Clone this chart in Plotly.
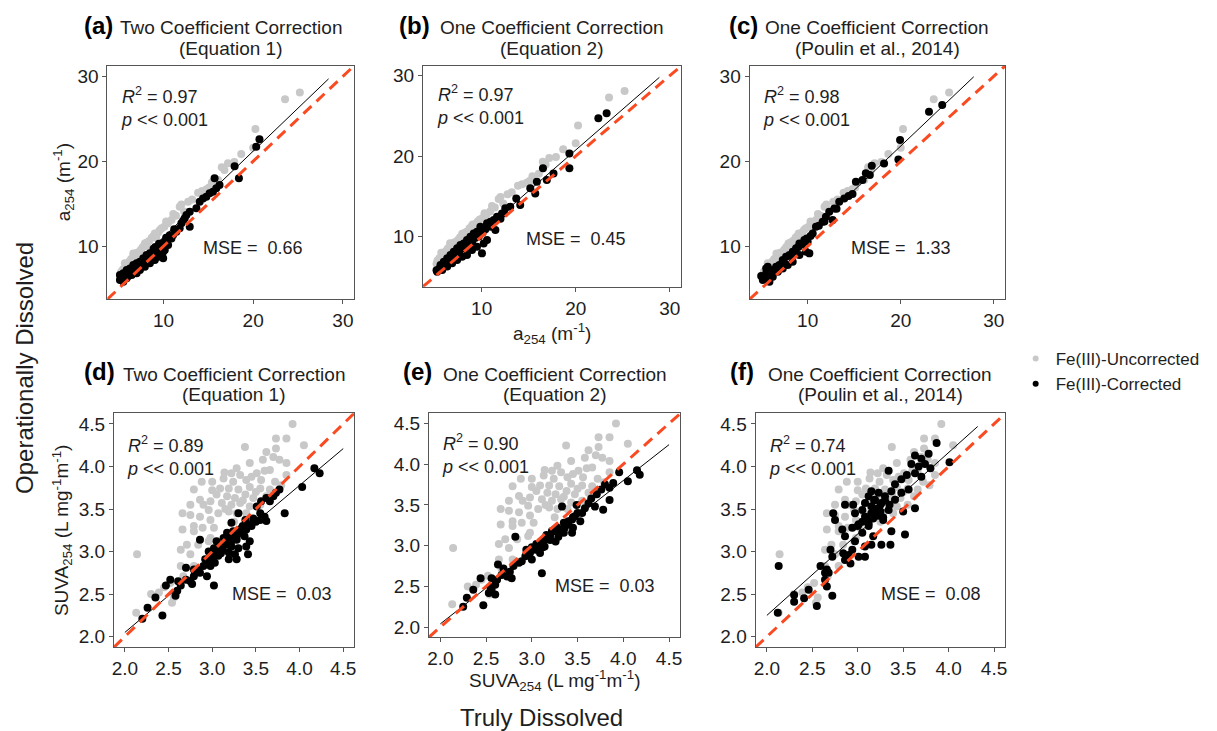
import plotly.graph_objects as go

W, H = 1217, 731
FONT = "Liberation Sans, Arial, Helvetica, sans-serif"
GREY = "#C8C8C8"
RED = "#FA4A22"
INK = "#1E1E1E"
FRAME = "#555555"

# ---------------- data: a254 (m^-1), truly vs operationally dissolved ----------------
a254_uncorr_x = [23.55, 25.2, 20.25, 20.0, 18.67, 17.9, 17.19, 16.8, 16.5, 16.08, 15.4, 14.8,
                 13.86, 13.2, 12.75, 12.3, 11.81, 11.4, 10.9, 10.5, 10.1, 9.8, 9.4, 9.04,
                 8.7, 8.4, 8.1, 7.93, 7.7, 7.5, 7.2, 7.0, 6.8, 6.64, 6.4, 6.2, 6.0, 5.8, 5.7,
                 5.5, 5.3, 5.2, 9.6, 8.9, 11.1, 12.0, 14.3, 15.1, 10.3, 7.4, 6.9, 8.2, 9.2,
                 5.9, 6.5]
a254_uncorr_y = [27.3, 28.1, 23.8, 21.6, 20.85, 19.9, 19.76, 18.97, 19.3, 17.79, 17.5, 16.7,
                 16.3, 15.5, 15.24, 14.1, 14.65, 13.6, 13.1, 12.7, 12.3, 12.1, 11.6, 11.5,
                 11.0, 10.6, 10.4, 10.33, 9.9, 9.6, 9.3, 9.2, 8.8, 9.15, 8.5, 8.2, 7.9, 7.6, 7.99,
                 7.3, 7.0, 6.6, 11.9, 11.2, 13.8, 14.9, 16.5, 16.9, 12.9, 9.0, 8.6, 10.0, 11.0,
                 7.4, 8.0]

a254_eq1_x = [20.7, 20.34, 17.93, 18.41, 15.7, 16.25, 15.89, 15.52, 15.15, 14.78, 14.41, 14.04,
              13.67, 12.93, 12.56, 12.37, 12.93, 12.0, 11.81, 11.44, 11.07, 10.89, 10.33, 10.52,
              10.15, 9.97, 9.78, 9.6, 9.23, 8.86, 8.49, 8.12, 7.75, 7.38, 7.01, 6.64, 6.27, 5.9,
              5.53, 5.15, 5.15, 5.53, 5.9, 6.46, 7.01, 7.38, 7.93, 8.49, 9.04, 9.41, 9.97,
              6.0, 6.3, 6.8, 7.2, 7.6, 8.0, 8.3, 8.7, 9.1, 9.5, 10.0, 10.3, 10.7, 11.2, 12.2,
              7.0, 6.1, 5.6, 5.3, 8.9]
a254_eq1_y = [22.6, 21.7, 19.4, 17.99, 18.0, 17.2, 16.81, 16.42, 16.22, 15.83, 15.63, 15.24,
              14.46, 14.06, 13.67, 13.28, 12.3, 12.69, 12.1, 11.71, 11.32, 10.92, 10.73, 10.14,
              9.55, 9.36, 9.94, 9.75, 9.55, 9.36, 9.16, 8.96, 8.57, 8.18, 7.98, 7.79, 7.39, 7.2,
              6.81, 6.61, 6.02, 5.82, 6.22, 6.61, 6.81, 7.2, 7.59, 7.98, 8.38, 8.77, 8.57,
              6.9, 6.8, 7.3, 7.6, 8.1, 8.4, 8.7, 8.9, 9.9, 10.3, 10.4, 11.0, 11.3, 12.0, 13.0,
              7.3, 6.5, 6.3, 6.4, 9.7]

a254_eq2_x = [23.29, 22.41, 19.33, 19.33, 17.64, 16.52, 16.93, 15.87, 15.7, 15.17, 13.68, 14.1,
              13.04, 12.51, 12.16, 11.63, 11.28, 10.93, 10.57, 11.46, 9.86, 9.5, 9.15, 8.8,
              8.44, 8.09, 7.74, 7.39, 7.03, 6.68, 6.33, 5.97, 5.62, 5.27, 5.8, 6.33, 6.86, 7.39,
              7.92, 8.44, 8.97, 9.5, 10.03, 10.21, 10.57,
              6.1, 6.5, 7.0, 7.6, 8.2, 8.6, 9.0, 9.3, 9.7, 10.1, 10.4, 11.0, 12.0, 12.4, 5.5,
              5.2, 6.8, 7.2]
a254_eq2_y = [25.32, 24.7, 20.34, 18.48, 17.85, 18.48, 17.02, 16.82, 15.36, 15.99, 14.74, 13.91,
              13.7, 13.5, 12.87, 12.46, 12.04, 11.84, 11.63, 10.8, 11.21, 10.59, 10.38, 9.97,
              9.56, 9.14, 8.94, 8.52, 8.11, 7.69, 7.28, 6.87, 6.45, 5.62, 5.83, 6.25, 6.66, 7.07,
              7.49, 7.69, 8.31, 8.73, 7.9, 9.14, 9.56,
              6.6, 6.9, 7.4, 8.0, 8.5, 8.9, 9.3, 9.8, 10.0, 10.5, 10.9, 11.2, 12.2, 12.9, 6.0,
              5.8, 7.1, 7.7]

a254_poulin_x = [24.46, 23.04, 19.93, 19.75, 18.21, 16.89, 16.68, 16.25, 15.89, 15.18, 14.82,
                 13.93, 13.39, 12.86, 12.32, 11.96, 12.68, 11.61, 10.89, 10.54, 10.0, 10.18,
                 9.64, 9.11, 8.75, 8.39, 8.04, 7.68, 7.5, 7.32, 6.96, 6.61, 6.25, 5.71, 5.54,
                 5.18, 5.0, 5.89, 6.25, 6.79, 7.32, 7.86, 8.39, 9.11, 9.82, 5.54,
                 6.0, 6.4, 7.0, 7.4, 8.2, 8.6, 9.0, 9.4, 9.9, 10.3, 11.2, 11.8, 13.1, 14.4,
                 5.3, 5.7]
a254_poulin_y = [26.62, 25.83, 22.5, 20.22, 19.75, 19.48, 18.38, 18.58, 17.79, 17.59, 16.14,
                 15.63, 15.24, 14.45, 14.06, 13.47, 13.08, 12.89, 12.3, 11.51, 10.53, 9.16,
                 10.73, 10.33, 9.75, 9.35, 8.96, 8.76, 7.98, 8.37, 7.78, 7.59, 7.19, 7.59, 6.8,
                 6.02, 6.49, 5.82, 6.41, 7.0, 7.39, 7.78, 8.18, 8.96, 9.35, 7.39,
                 6.9, 7.0, 7.5, 8.0, 8.9, 9.4, 9.9, 10.2, 10.9, 11.2, 12.4, 12.9, 14.4, 15.9,
                 6.3, 6.4]

# ---------------- data: SUVA254 (L mg^-1 m^-1) ----------------
suva_uncorr_x = [3.92, 3.73, 3.85, 4.05, 3.375, 3.62, 3.73, 3.70, 3.77, 3.85, 3.58, 3.43, 3.22,
                 3.32, 3.51, 3.66, 3.85, 3.13, 3.24, 3.39, 3.56, 3.72, 3.79, 2.79, 2.88, 3.00,
                 3.09, 3.19, 3.30, 3.43, 3.55, 3.66, 3.05, 3.17, 3.26, 3.38, 3.47, 3.62, 2.75,
                 2.86, 2.98, 3.11, 3.22, 3.32, 3.43, 3.55, 2.96, 3.07, 3.19, 3.28, 3.39, 2.66,
                 2.75, 2.86, 2.98, 2.79, 2.89, 3.02, 2.66, 2.79, 2.98, 2.64, 2.71, 2.14, 2.84,
                 2.96, 2.75, 2.64, 2.79, 2.67, 2.52, 2.45, 2.39, 2.56, 2.30, 2.13, 2.54,
                 3.14, 3.28, 3.45, 3.00, 2.90, 3.15, 3.35, 3.50, 3.60, 3.25]
suva_uncorr_y = [4.50, 4.33, 4.33, 4.25, 4.23, 4.17, 4.21, 4.11, 4.08, 4.04, 4.08, 4.04, 3.92,
                 3.90, 3.92, 3.96, 3.90, 3.86, 3.82, 3.84, 3.84, 3.82, 3.78, 3.73, 3.82, 3.82,
                 3.74, 3.74, 3.73, 3.76, 3.74, 3.73, 3.67, 3.65, 3.63, 3.67, 3.63, 3.65, 3.55,
                 3.61, 3.59, 3.57, 3.55, 3.57, 3.53, 3.55, 3.49, 3.45, 3.47, 3.45, 3.45, 3.45,
                 3.43, 3.41, 3.37, 3.30, 3.28, 3.28, 3.26, 3.24, 3.16, 3.02, 3.08, 2.97, 3.08,
                 3.12, 2.97, 2.83, 2.83, 2.71, 2.63, 2.58, 2.52, 2.46, 2.50, 2.28, 2.40,
                 3.93, 3.98, 3.88, 3.72, 3.55, 3.50, 3.60, 3.70, 3.95, 3.35]

suva_eq1_x = [4.17, 4.23, 4.03, 3.77, 3.73, 3.70, 3.66, 3.62, 3.56, 3.51, 3.83, 3.60, 3.55, 3.47,
              3.62, 3.55, 3.38, 3.42, 3.30, 3.22, 3.34, 3.39, 3.32, 3.24, 3.17, 3.13, 3.20, 3.28,
              3.37, 3.43, 3.39, 3.41, 2.86, 3.05, 3.13, 3.22, 3.30, 3.02, 2.96, 3.09, 3.19, 3.26,
              3.07, 3.00, 2.92, 3.03, 3.19, 3.28, 2.90, 2.98, 2.84, 2.79, 2.70, 2.94, 2.86, 2.79,
              3.02, 2.75, 2.70, 2.64, 2.77, 2.52, 2.61, 2.47, 2.58, 2.60, 2.35, 2.43, 2.26, 2.20,
              3.10, 3.15, 3.20, 3.25, 3.30, 3.35, 3.00, 3.05, 3.10, 3.22, 3.28, 3.35, 3.45, 3.50,
              2.95, 3.12, 3.18]
suva_eq1_y = [3.98, 3.92, 3.76, 3.73, 3.69, 3.65, 3.59, 3.63, 3.59, 3.53, 3.45, 3.41, 3.45, 3.39,
              3.36, 3.37, 3.37, 3.32, 3.45, 3.34, 3.28, 3.26, 3.22, 3.24, 3.22, 3.16, 3.16, 3.14,
              3.18, 3.12, 3.06, 2.97, 3.14, 3.12, 3.08, 3.06, 3.04, 3.04, 3.00, 3.00, 2.99, 2.97,
              2.95, 2.93, 2.91, 2.87, 2.91, 2.91, 2.83, 2.83, 2.79, 2.79, 2.81, 2.71, 2.75, 2.71,
              2.60, 2.65, 2.67, 2.60, 2.62, 2.67, 2.65, 2.60, 2.48, 2.54, 2.46, 2.25, 2.34, 2.21,
              3.05, 3.10, 3.10, 3.20, 3.25, 3.30, 2.97, 3.00, 2.98, 3.12, 3.18, 3.22, 3.30, 3.35,
              2.90, 3.02, 3.08]

suva_eq2_x = [4.15, 4.18, 4.05, 3.955, 3.89, 3.85, 3.80, 3.76, 3.85, 3.71, 3.65, 3.62, 3.78,
              3.69, 3.58, 3.55, 3.49, 3.47, 3.53, 3.44, 3.40, 3.36, 3.33, 3.45, 3.44, 3.35, 3.29,
              3.24, 3.26, 3.16, 3.20, 3.13, 3.14, 3.07, 3.04, 3.09, 2.98, 2.94, 2.93, 3.00, 2.89,
              2.82, 2.86, 2.80, 3.11, 2.76, 2.69, 2.63, 2.67, 2.73, 2.78, 2.62, 2.60, 2.56, 2.53,
              2.44, 2.56, 2.55, 2.36, 2.29, 2.25, 2.47, 2.60,
              3.10, 3.20, 3.25, 3.30, 3.35, 3.40, 3.00, 3.05, 3.15, 3.22, 3.28, 3.45, 3.50, 2.95,
              3.12]
suva_eq2_y = [3.925, 3.87, 3.79, 3.90, 3.77, 3.71, 3.75, 3.69, 3.56, 3.63, 3.58, 3.52, 3.44,
              3.48, 3.46, 3.40, 3.50, 3.36, 3.30, 3.32, 3.26, 3.22, 3.48, 3.22, 3.16, 3.16, 3.11,
              3.18, 3.05, 3.13, 3.07, 3.07, 2.99, 3.01, 2.95, 2.91, 2.91, 2.95, 2.87, 2.83, 2.81,
              3.11, 2.79, 2.75, 2.66, 2.68, 2.72, 2.77, 2.64, 2.62, 2.60, 2.58, 2.52, 2.46, 2.42,
              2.60, 2.60, 2.48, 2.46, 2.36, 2.25, 2.27, 2.40,
              3.05, 3.12, 3.20, 3.15, 3.28, 3.30, 2.98, 3.02, 3.08, 3.18, 3.22, 3.35, 3.40, 2.92,
              2.98]

suva_poulin_x = [3.868, 4.01, 3.63, 3.70, 3.78, 3.74, 3.80, 3.67, 3.59, 3.63, 3.70, 3.54, 3.48,
                 3.34, 3.41, 3.56, 3.63, 3.48, 3.37, 3.30, 3.23, 3.15, 3.12, 3.19, 3.26, 3.41,
                 3.50, 3.34, 3.25, 3.15, 3.08, 3.05, 2.97, 3.08, 3.17, 3.28, 3.37, 3.52, 3.12,
                 3.01, 2.94, 2.86, 2.95, 2.73, 2.75, 2.83, 2.86, 3.05, 3.17, 2.97, 3.15, 3.26,
                 3.36, 3.08, 2.94, 3.01, 3.08, 2.84, 2.70, 2.72, 2.86, 2.92, 2.90, 2.59, 2.66,
                 2.64, 2.68, 2.64, 2.66, 2.72, 2.55, 2.46, 2.41, 2.30, 2.30, 2.13, 2.12,
                 3.10, 3.15, 3.20, 3.25, 3.22, 3.05, 3.12, 3.18, 3.30, 3.35, 3.00, 3.28]
suva_poulin_y = [4.276, 4.05, 4.13, 4.09, 4.15, 4.03, 3.98, 4.00, 4.03, 3.92, 3.88, 3.90, 3.85,
                 3.95, 3.79, 3.73, 3.51, 3.69, 3.71, 3.65, 3.69, 3.71, 3.65, 3.61, 3.57, 3.61,
                 3.47, 3.49, 3.47, 3.53, 3.57, 3.49, 3.45, 3.41, 3.39, 3.37, 3.24, 3.20, 3.33,
                 3.32, 3.28, 3.55, 3.55, 3.45, 3.37, 3.26, 3.18, 3.22, 3.18, 3.12, 3.08, 3.08,
                 3.08, 3.06, 3.02, 2.94, 2.94, 2.98, 3.02, 2.94, 2.90, 2.86, 2.96, 2.83, 2.79,
                 2.75, 2.75, 2.67, 2.59, 2.48, 2.36, 2.55, 2.45, 2.49, 2.41, 2.83, 2.28,
                 3.40, 3.45, 3.50, 3.55, 3.42, 3.35, 3.30, 3.60, 3.60, 3.55, 3.30, 3.40]

# regression line end points for each panel
fit_a254_eq1_x, fit_a254_eq1_y = [5.0, 28.4], [6.0, 29.7]
fit_a254_eq2_x, fit_a254_eq2_y = [5.0, 28.9], [5.5, 29.8]
fit_a254_poulin_x, fit_a254_poulin_y = [5.0, 27.85], [6.2, 29.95]
fit_suva_eq1_x, fit_suva_eq1_y = [2.0, 4.5], [2.05, 4.21]
fit_suva_eq2_x, fit_suva_eq2_y = [2.0, 4.5], [2.04, 4.24]
fit_suva_poulin_x, fit_suva_poulin_y = [2.0, 4.32], [2.25, 4.47]

# axis limits shared by x and y (1:1 comparison)
a254_limits = [3.75, 31.25]
suva_limits = [1.875, 4.625]
a254_ticks = [10, 20, 30]
suva_ticks = [2.0, 2.5, 3.0, 3.5, 4.0, 4.5]

panel_tags = ["(a)", "(b)", "(c)", "(d)", "(e)", "(f)"]
title_line1 = ["Two Coefficient Correction", "One Coefficient Correction",
               "One Coefficient Correction"] * 2
title_line2 = ["(Equation 1)", "(Equation 2)", "(Poulin et al., 2014)"] * 2
r2_values = ["0.97", "0.97", "0.98", "0.89", "0.90", "0.74"]
mse_values = ["0.66", "0.45", "1.33", "0.03", "0.03", "0.08"]
mse_pos_x = [20.0, 20.0, 20.0, 3.80, 3.80, 3.81]
mse_pos_y = [9.75, 9.7, 9.75, 2.50, 2.50, 2.50]

# ---------------- layout geometry (pixels) ----------------
boxes = [
    (105.7, 353.3, 65.7, 299.3),
    (422.3, 681.7, 65.7, 286.7),
    (750.0, 1006.7, 65.7, 299.3),
    (112.3, 353.3, 413.3, 647.3),
    (428.3, 680.7, 413.3, 637.3),
    (756.0, 1006.7, 413.3, 647.3),
]
tag_right = [113.3, 431.7, 760.0, 115.0, 433.3, 756.7]


def px(x):
    return x / W


def py(y):
    return 1 - y / H


fig = go.Figure()

panels = [
    (a254_uncorr_x, a254_uncorr_y, a254_eq1_x, a254_eq1_y, fit_a254_eq1_x, fit_a254_eq1_y),
    (a254_uncorr_x, a254_uncorr_y, a254_eq2_x, a254_eq2_y, fit_a254_eq2_x, fit_a254_eq2_y),
    (a254_uncorr_x, a254_uncorr_y, a254_poulin_x, a254_poulin_y, fit_a254_poulin_x, fit_a254_poulin_y),
    (suva_uncorr_x, suva_uncorr_y, suva_eq1_x, suva_eq1_y, fit_suva_eq1_x, fit_suva_eq1_y),
    (suva_uncorr_x, suva_uncorr_y, suva_eq2_x, suva_eq2_y, fit_suva_eq2_x, fit_suva_eq2_y),
    (suva_uncorr_x, suva_uncorr_y, suva_poulin_x, suva_poulin_y, fit_suva_poulin_x, fit_suva_poulin_y),
]

annotations = []
for i, (gx, gy, bx, by, fx, fy) in enumerate(panels):
    n = i + 1
    xa, ya = ("x" if n == 1 else f"x{n}"), ("y" if n == 1 else f"y{n}")
    lim = a254_limits if i < 3 else suva_limits
    ticks = a254_ticks if i < 3 else suva_ticks

    fig.add_trace(go.Scatter(x=gx, y=gy, mode="markers", xaxis=xa, yaxis=ya, showlegend=False,
                             marker=dict(color=GREY, size=8, line=dict(width=0))))
    fig.add_trace(go.Scatter(x=bx, y=by, mode="markers", xaxis=xa, yaxis=ya, showlegend=False,
                             marker=dict(color="black", size=8, line=dict(width=0))))
    fig.add_trace(go.Scatter(x=fx, y=fy, mode="lines", xaxis=xa, yaxis=ya, showlegend=False,
                             line=dict(color="black", width=1)))
    fig.add_trace(go.Scatter(x=lim, y=lim, mode="lines", xaxis=xa, yaxis=ya, showlegend=False,
                             line=dict(color=RED, width=3, dash="11px,7px")))

    x0, x1, y0, y1 = boxes[i]
    axis_common = dict(range=lim, tickvals=ticks, ticks="outside", ticklen=4, tickwidth=1,
                       tickcolor=FRAME, showline=True, linecolor=FRAME, linewidth=1, mirror=True,
                       showgrid=False, zeroline=False,
                       tickfont=dict(family=FONT, size=19, color=INK))
    if i >= 3:
        axis_common["tickformat"] = ".1f"
    fig.layout[f"xaxis{n}"] = dict(axis_common, domain=[px(x0), px(x1)], anchor=ya)
    fig.layout[f"yaxis{n}"] = dict(axis_common, domain=[py(y1), py(y0)], anchor=xa)

    # panel headings
    cx = (x0 + x1) / 2
    row_top = 0 if i < 3 else 346.5
    annotations.append(dict(text=f"<b>{panel_tags[i]}</b>", x=px(tag_right[i]), y=py(row_top + 25),
                            xref="paper", yref="paper", xanchor="right", yanchor="middle",
                            showarrow=False, font=dict(family=FONT, size=24, color="black")))
    annotations.append(dict(text=title_line1[i], x=px(cx), y=py(row_top + 27.5),
                            xref="paper", yref="paper", xanchor="center", yanchor="middle",
                            showarrow=False, font=dict(family=FONT, size=19, color=INK)))
    annotations.append(dict(text=title_line2[i], x=px(cx), y=py(row_top + 48),
                            xref="paper", yref="paper", xanchor="center", yanchor="middle",
                            showarrow=False, font=dict(family=FONT, size=19, color=INK)))

    # statistics text (two lines in one block)
    if i < 3:
        sx, sy = 5.0, 26.4
    else:
        sx, sy = 2.0, 4.125
    annotations.append(dict(text=f"<i>R</i><sup>2</sup> = {r2_values[i]}<br><i>p</i> << 0.001",
                            x=sx, y=sy, xref=xa, yref=ya, xanchor="left", yanchor="middle",
                            align="left", showarrow=False,
                            font=dict(family=FONT, size=18, color=INK)))
    annotations.append(dict(text=f"MSE =  {mse_values[i]}", x=mse_pos_x[i], y=mse_pos_y[i],
                            xref=xa, yref=ya, xanchor="center", yanchor="middle", showarrow=False,
                            font=dict(family=FONT, size=18, color=INK)))

# axis titles
a254_label = "a<sub>254</sub> (m<sup>-1</sup>)"
suva_label = "SUVA<sub>254</sub> (L mg<sup>-1</sup>m<sup>-1</sup>)"
for text, x, y, ang, size in [
    (a254_label, 62, 182.5, -90, 19),
    (suva_label, 60, 530.3, -90, 19),
    (a254_label, 552, 333, 0, 19),
    (suva_label, 554, 680, 0, 19),
    ("Operationally Dissolved", 22, 368, -90, 24),
    ("Truly Dissolved", 541, 717, 0, 24),
]:
    annotations.append(dict(text=text, x=px(x), y=py(y), xref="paper", yref="paper",
                            xanchor="center", yanchor="middle", textangle=ang, showarrow=False,
                            font=dict(family=FONT, size=size, color=INK)))

# legend entries
fig.add_trace(go.Scatter(x=[None], y=[None], mode="markers", name="Fe(III)-Uncorrected",
                         marker=dict(color=GREY, size=6)))
fig.add_trace(go.Scatter(x=[None], y=[None], mode="markers", name="Fe(III)-Corrected",
                         marker=dict(color="black", size=6)))

fig.update_layout(
    width=W, height=H, margin=dict(l=0, r=0, t=0, b=0),
    paper_bgcolor="white", plot_bgcolor="white",
    annotations=annotations,
    legend=dict(x=px(1017), y=py(341), xanchor="left", yanchor="top",
                font=dict(family=FONT, size=17, color=INK), bgcolor="rgba(0,0,0,0)",
                tracegroupgap=0, itemsizing="trace"),
    showlegend=True,
)

fig.write_html("out.html")
